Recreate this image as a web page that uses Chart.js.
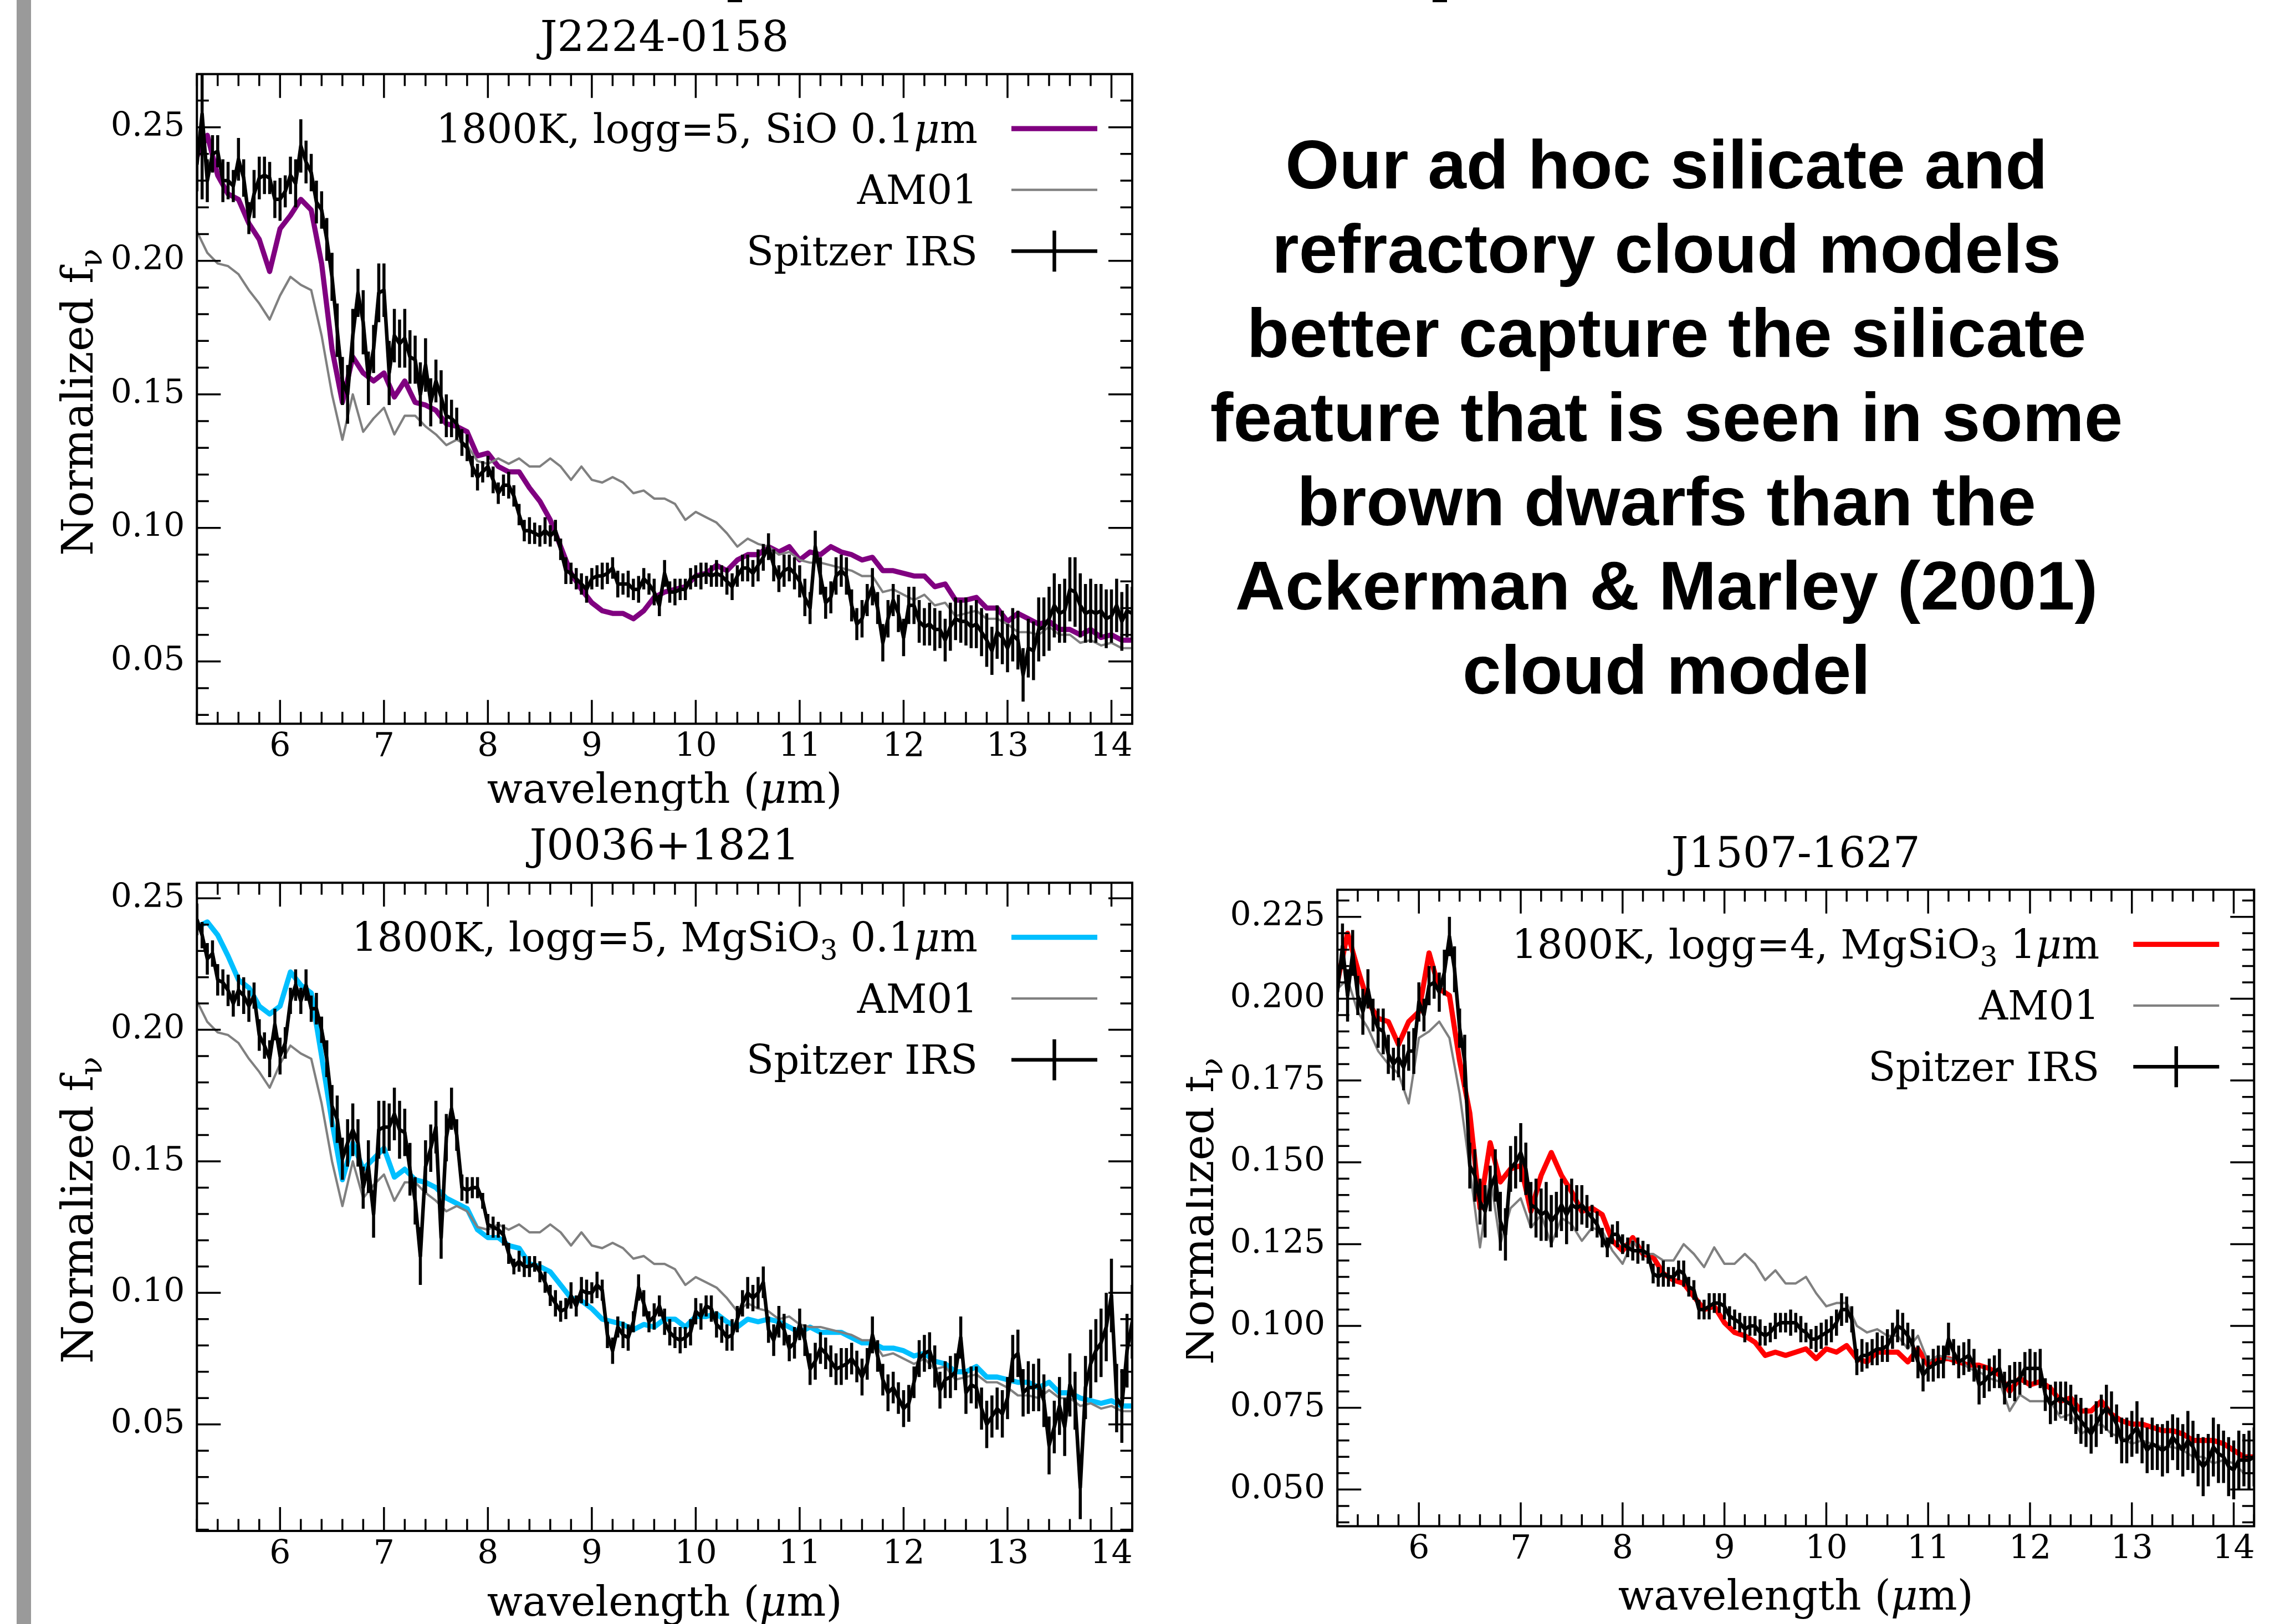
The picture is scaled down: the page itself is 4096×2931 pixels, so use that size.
<!DOCTYPE html>
<html>
<head>
<meta charset="utf-8">
<script src="https://cdn.jsdelivr.net/npm/chart.js@4.4.1/dist/chart.umd.min.js"></script>
<style>
  html, body { margin: 0; padding: 0; background: #ffffff; }
  body { width: 4096px; height: 2931px; position: relative; overflow: hidden; }
  canvas { position: absolute; }
  #bar { position: absolute; left: 30px; top: 0; width: 26px; height: 2931px; background: #9a9a9a; }
  .cut { position: absolute; top: 0; width: 26px; height: 4px; background: #000; }
  #note {
    position: absolute; left: 2007px; top: 221px; width: 2000px;
    text-align: center; color: #000;
    font-family: "Liberation Sans", Arial, sans-serif; font-weight: bold;
    font-size: 125px; line-height: 152px; white-space: pre;
  }
</style>
</head>
<body>
<div id="bar"></div>
<div class="cut" style="left:1313px"></div>
<div class="cut" style="left:2585px"></div>
<canvas id="c1" width="2000" height="1463" style="left:70px;top:0px"></canvas>
<canvas id="c2" width="2000" height="1451" style="left:70px;top:1480px"></canvas>
<canvas id="c3" width="1956" height="1451" style="left:2140px;top:1480px"></canvas>
<div id="note">Our ad hoc silicate and
refractory cloud models
better capture the silicate
feature that is seen in some
brown dwarfs than the
Ackerman &amp; Marley (2001)
cloud model</div>
<script>
// Model wavelength grid (micron)
const wl = [5.2,5.3,5.4,5.5,5.6,5.7,5.8,5.9,6.0,6.1,6.2,6.3,6.4,6.5,6.6,6.7,6.8,6.9,7.0,7.1,
  7.2,7.3,7.4,7.5,7.6,7.7,7.8,7.9,8.0,8.1,8.2,8.3,8.4,8.5,8.6,8.7,8.8,8.9,9.0,9.1,
  9.2,9.3,9.4,9.5,9.6,9.7,9.8,9.9,10.0,10.1,10.2,10.3,10.4,10.5,10.6,10.7,10.8,10.9,11.0,11.1,
  11.2,11.3,11.4,11.5,11.6,11.7,11.8,11.9,12.0,12.1,12.2,12.3,12.4,12.5,12.6,12.7,12.8,12.9,13.0,13.1,
  13.2,13.3,13.4,13.5,13.6,13.7,13.8,13.9,14.0,14.1,14.2];

// Spitzer IRS wavelength grid (micron)
const wlIrs = [
  5.20,5.25,5.30,5.35,5.40,5.45,5.50,5.55,5.60,5.65,
  5.70,5.75,5.80,5.85,5.90,5.95,6.00,6.05,6.10,6.15,
  6.20,6.25,6.30,6.35,6.40,6.45,6.50,6.55,6.60,6.65,
  6.70,6.75,6.80,6.85,6.90,6.95,7.00,7.05,7.10,7.15,
  7.20,7.25,7.30,7.35,7.40,7.45,7.50,7.55,7.60,7.65,
  7.70,7.75,7.80,7.85,7.90,7.95,8.00,8.05,8.10,8.15,
  8.20,8.25,8.30,8.35,8.40,8.45,8.50,8.55,8.60,8.65,
  8.70,8.75,8.80,8.85,8.90,8.95,9.00,9.05,9.10,9.15,
  9.20,9.25,9.30,9.35,9.40,9.45,9.50,9.55,9.60,9.65,
  9.70,9.75,9.80,9.85,9.90,9.95,10.00,10.05,10.10,10.15,
  10.20,10.25,10.30,10.35,10.40,10.45,10.50,10.55,10.60,10.65,
  10.70,10.75,10.80,10.85,10.90,10.95,11.00,11.05,11.10,11.15,
  11.20,11.25,11.30,11.35,11.40,11.45,11.50,11.55,11.60,11.65,
  11.70,11.75,11.80,11.85,11.90,11.95,12.00,12.05,12.10,12.15,
  12.20,12.25,12.30,12.35,12.40,12.45,12.50,12.55,12.60,12.65,
  12.70,12.75,12.80,12.85,12.90,12.95,13.00,13.05,13.10,13.15,
  13.20,13.25,13.30,13.35,13.40,13.45,13.50,13.55,13.60,13.65,
  13.70,13.75,13.80,13.85,13.90,13.95,14.00,14.05,14.10,14.15,
  14.20];

// Tick labels
const xTicks = [6,7,8,9,10,11,12,13,14];
const yTicksA = [0.05,0.10,0.15,0.20,0.25];
const yTicksB = [0.050,0.075,0.100,0.125,0.150,0.175,0.200,0.225];

// Ackerman & Marley (2001) model, J2224-0158 and J0036+1821
const am01 = [0.211,0.203,0.199,0.198,0.195,0.189,0.184,0.178,0.187,0.194,0.191,0.189,0.172,0.150,0.133,0.150,0.136,0.141,0.145,0.135,
  0.142,0.142,0.138,0.135,0.131,0.133,0.131,0.125,0.124,0.126,0.124,0.126,0.123,0.123,0.126,0.123,0.118,0.123,0.118,0.117,
  0.119,0.117,0.113,0.114,0.111,0.111,0.109,0.103,0.106,0.104,0.102,0.098,0.093,0.096,0.094,0.093,0.090,0.091,0.088,0.087,
  0.087,0.086,0.085,0.084,0.082,0.082,0.076,0.077,0.075,0.073,0.075,0.071,0.072,0.067,0.068,0.069,0.066,0.066,0.064,0.061,
  0.061,0.060,0.063,0.060,0.060,0.057,0.058,0.056,0.057,0.055,0.055];

// J2224-0158: SiO 0.1 micron cloud model
const sio01 = [0.239,0.247,0.232,0.225,0.223,0.214,0.208,0.196,0.212,0.217,0.223,0.219,0.199,0.167,0.147,0.164,0.158,0.155,0.158,0.149,
  0.155,0.147,0.146,0.144,0.139,0.138,0.136,0.127,0.128,0.123,0.121,0.121,0.115,0.110,0.103,0.093,0.083,0.077,0.072,0.069,
  0.068,0.068,0.066,0.069,0.074,0.076,0.077,0.078,0.082,0.083,0.086,0.084,0.088,0.090,0.090,0.093,0.091,0.093,0.088,0.091,
  0.090,0.093,0.091,0.090,0.088,0.089,0.084,0.084,0.083,0.082,0.082,0.078,0.079,0.073,0.073,0.074,0.070,0.070,0.065,0.068,
  0.066,0.064,0.065,0.062,0.062,0.060,0.062,0.059,0.060,0.058,0.058];

// J2224-0158: Spitzer IRS spectrum and uncertainty
const irs1 = [
  0.236,0.255,0.230,0.240,0.241,0.230,0.230,0.228,0.238,0.231,
  0.216,0.225,0.231,0.232,0.231,0.223,0.223,0.226,0.232,0.229,
  0.243,0.237,0.233,0.222,0.219,0.208,0.194,0.174,0.155,0.150,
  0.172,0.188,0.177,0.156,0.167,0.188,0.189,0.158,0.172,0.169,
  0.171,0.164,0.163,0.150,0.161,0.147,0.155,0.149,0.142,0.141,
  0.139,0.132,0.130,0.123,0.119,0.121,0.123,0.118,0.113,0.116,
  0.116,0.112,0.105,0.099,0.099,0.098,0.097,0.099,0.097,0.099,
  0.092,0.084,0.083,0.081,0.079,0.077,0.081,0.082,0.082,0.083,
  0.085,0.079,0.079,0.079,0.077,0.077,0.081,0.079,0.076,0.071,
  0.083,0.076,0.076,0.077,0.077,0.081,0.082,0.082,0.083,0.082,
  0.083,0.082,0.080,0.078,0.082,0.085,0.085,0.083,0.086,0.089,
  0.093,0.086,0.081,0.084,0.085,0.083,0.080,0.074,0.070,0.093,
  0.082,0.072,0.074,0.082,0.084,0.082,0.071,0.064,0.066,0.073,
  0.078,0.070,0.057,0.066,0.073,0.068,0.059,0.071,0.071,0.065,
  0.063,0.064,0.062,0.062,0.058,0.063,0.066,0.065,0.065,0.063,
  0.064,0.061,0.058,0.054,0.061,0.059,0.055,0.060,0.058,0.045,
  0.055,0.054,0.062,0.063,0.066,0.071,0.068,0.069,0.077,0.076,
  0.071,0.068,0.069,0.068,0.069,0.066,0.067,0.071,0.065,0.069,
  0.068];
const err1 = [
  0.010,0.032,0.008,0.007,0.006,0.008,0.007,0.006,0.008,0.007,
  0.006,0.009,0.008,0.007,0.006,0.007,0.008,0.006,0.007,0.009,
  0.010,0.008,0.007,0.008,0.007,0.008,0.009,0.010,0.009,0.011,
  0.010,0.009,0.012,0.010,0.009,0.011,0.010,0.012,0.010,0.009,
  0.011,0.010,0.009,0.012,0.010,0.009,0.008,0.010,0.008,0.007,
  0.006,0.005,0.005,0.004,0.005,0.004,0.004,0.005,0.004,0.004,
  0.005,0.004,0.004,0.004,0.005,0.004,0.004,0.005,0.004,0.004,
  0.004,0.005,0.004,0.004,0.004,0.005,0.004,0.004,0.005,0.004,
  0.004,0.005,0.004,0.005,0.004,0.005,0.004,0.004,0.005,0.004,
  0.005,0.004,0.005,0.004,0.004,0.004,0.004,0.005,0.004,0.004,
  0.005,0.004,0.005,0.005,0.004,0.005,0.005,0.005,0.006,0.005,
  0.005,0.006,0.005,0.006,0.005,0.006,0.006,0.007,0.006,0.006,
  0.007,0.006,0.006,0.007,0.006,0.007,0.006,0.006,0.007,0.006,
  0.007,0.006,0.007,0.007,0.006,0.007,0.007,0.007,0.007,0.008,
  0.007,0.008,0.008,0.007,0.008,0.009,0.008,0.008,0.009,0.008,
  0.009,0.009,0.010,0.009,0.010,0.010,0.009,0.010,0.011,0.010,
  0.011,0.011,0.012,0.011,0.012,0.012,0.011,0.012,0.012,0.013,
  0.012,0.011,0.012,0.011,0.010,0.011,0.010,0.010,0.011,0.010,
  0.010];

// J0036+1821: MgSiO3 0.1 micron cloud model
const mg01 = [0.239,0.241,0.236,0.228,0.219,0.216,0.209,0.206,0.209,0.222,0.217,0.214,0.190,0.165,0.143,0.157,0.147,0.151,0.155,0.144,
  0.147,0.143,0.142,0.140,0.136,0.134,0.132,0.124,0.121,0.121,0.118,0.117,0.111,0.110,0.108,0.103,0.098,0.097,0.094,0.090,
  0.089,0.088,0.086,0.088,0.087,0.090,0.090,0.087,0.091,0.091,0.092,0.089,0.087,0.090,0.089,0.090,0.089,0.087,0.085,0.087,
  0.085,0.085,0.085,0.083,0.081,0.081,0.079,0.079,0.078,0.076,0.077,0.074,0.073,0.070,0.070,0.072,0.068,0.068,0.067,0.066,
  0.066,0.064,0.066,0.062,0.062,0.060,0.059,0.058,0.059,0.057,0.057];

// J0036+1821: Spitzer IRS spectrum and uncertainty
const irs2 = [
  0.242,0.236,0.227,0.229,0.219,0.218,0.215,0.210,0.215,0.213,
  0.209,0.213,0.198,0.194,0.189,0.202,0.190,0.195,0.211,0.217,
  0.211,0.217,0.208,0.208,0.200,0.189,0.171,0.166,0.151,0.157,
  0.162,0.157,0.140,0.148,0.130,0.162,0.163,0.163,0.168,0.162,
  0.161,0.147,0.135,0.114,0.148,0.155,0.163,0.121,0.159,0.170,
  0.160,0.140,0.139,0.140,0.140,0.135,0.126,0.125,0.124,0.122,
  0.115,0.110,0.112,0.110,0.110,0.111,0.108,0.104,0.099,0.096,
  0.093,0.094,0.099,0.095,0.101,0.100,0.100,0.103,0.101,0.084,
  0.078,0.087,0.084,0.083,0.089,0.102,0.096,0.089,0.091,0.095,
  0.089,0.085,0.083,0.082,0.083,0.085,0.093,0.091,0.095,0.094,
  0.088,0.086,0.083,0.084,0.090,0.096,0.100,0.098,0.100,0.104,
  0.086,0.082,0.089,0.086,0.079,0.081,0.088,0.082,0.071,0.074,
  0.079,0.077,0.074,0.071,0.072,0.073,0.075,0.072,0.068,0.073,
  0.084,0.076,0.067,0.062,0.064,0.060,0.056,0.058,0.066,0.075,
  0.077,0.078,0.072,0.063,0.067,0.068,0.070,0.083,0.062,0.065,
  0.064,0.056,0.050,0.053,0.056,0.054,0.060,0.075,0.077,0.062,
  0.064,0.064,0.065,0.059,0.042,0.049,0.057,0.049,0.065,0.059,
  0.026,0.064,0.073,0.078,0.081,0.087,0.099,0.060,0.057,0.078,
  0.089];
const err2 = [
  0.006,0.005,0.006,0.005,0.006,0.005,0.006,0.005,0.006,0.007,
  0.006,0.005,0.006,0.005,0.007,0.006,0.007,0.006,0.005,0.006,
  0.005,0.006,0.005,0.006,0.005,0.007,0.008,0.009,0.008,0.009,
  0.010,0.009,0.008,0.010,0.009,0.011,0.010,0.009,0.010,0.011,
  0.009,0.010,0.009,0.011,0.010,0.009,0.010,0.008,0.009,0.008,
  0.006,0.005,0.005,0.004,0.004,0.003,0.004,0.004,0.003,0.004,
  0.004,0.003,0.004,0.004,0.004,0.003,0.004,0.004,0.004,0.005,
  0.004,0.004,0.005,0.004,0.005,0.005,0.004,0.005,0.004,0.005,
  0.005,0.004,0.005,0.005,0.004,0.005,0.005,0.004,0.005,0.004,
  0.005,0.005,0.004,0.005,0.004,0.005,0.005,0.005,0.004,0.005,
  0.005,0.005,0.005,0.006,0.005,0.005,0.006,0.005,0.006,0.006,
  0.005,0.006,0.006,0.006,0.005,0.006,0.006,0.006,0.006,0.007,
  0.006,0.006,0.006,0.006,0.007,0.006,0.006,0.006,0.007,0.006,
  0.007,0.006,0.006,0.007,0.006,0.006,0.007,0.007,0.006,0.007,
  0.007,0.007,0.008,0.007,0.007,0.008,0.007,0.008,0.008,0.007,
  0.008,0.008,0.009,0.008,0.008,0.009,0.008,0.009,0.009,0.009,
  0.010,0.009,0.010,0.010,0.011,0.010,0.011,0.011,0.012,0.011,
  0.012,0.012,0.013,0.012,0.013,0.013,0.014,0.013,0.014,0.014,
  0.014];

// J1507-1627: MgSiO3 1 micron cloud model
const mg1 = [0.205,0.220,0.209,0.199,0.194,0.193,0.186,0.193,0.196,0.214,0.203,0.201,0.181,0.165,0.136,0.156,0.144,0.148,0.149,0.135,
  0.146,0.153,0.146,0.141,0.135,0.136,0.134,0.126,0.123,0.127,0.122,0.121,0.116,0.114,0.113,0.109,0.105,0.106,0.101,0.098,
  0.097,0.095,0.091,0.092,0.091,0.092,0.093,0.090,0.093,0.092,0.094,0.090,0.089,0.092,0.092,0.092,0.089,0.093,0.088,0.090,
  0.090,0.089,0.088,0.088,0.087,0.085,0.080,0.084,0.082,0.083,0.081,0.077,0.078,0.074,0.074,0.077,0.073,0.071,0.070,0.070,
  0.069,0.068,0.068,0.067,0.065,0.065,0.065,0.064,0.062,0.060,0.060];

// J1507-1627: Ackerman & Marley (2001) model
const am01b = [0.203,0.206,0.196,0.191,0.184,0.180,0.177,0.168,0.188,0.190,0.193,0.188,0.171,0.148,0.124,0.146,0.125,0.136,0.139,0.130,
  0.134,0.125,0.133,0.131,0.126,0.130,0.129,0.123,0.119,0.126,0.122,0.122,0.120,0.120,0.125,0.122,0.118,0.124,0.119,0.119,
  0.122,0.119,0.114,0.117,0.113,0.113,0.115,0.110,0.106,0.107,0.107,0.100,0.098,0.099,0.097,0.097,0.093,0.097,0.089,0.091,
  0.090,0.090,0.087,0.086,0.084,0.083,0.074,0.079,0.077,0.077,0.077,0.072,0.073,0.067,0.069,0.070,0.067,0.066,0.064,0.065,
  0.064,0.063,0.063,0.062,0.060,0.060,0.058,0.059,0.058,0.055,0.055];

// J1507-1627: Spitzer IRS spectrum and uncertainty
const irs3 = [
  0.202,0.216,0.201,0.214,0.201,0.196,0.203,0.195,0.191,0.190,
  0.183,0.180,0.182,0.179,0.184,0.184,0.199,0.195,0.204,0.205,
  0.202,0.208,0.219,0.209,0.191,0.181,0.149,0.146,0.138,0.135,
  0.142,0.146,0.132,0.128,0.148,0.150,0.153,0.148,0.137,0.136,
  0.134,0.135,0.132,0.134,0.137,0.134,0.137,0.136,0.137,0.135,
  0.133,0.131,0.127,0.124,0.128,0.128,0.125,0.124,0.123,0.123,
  0.123,0.122,0.116,0.115,0.116,0.115,0.115,0.117,0.116,0.112,
  0.111,0.105,0.105,0.106,0.107,0.107,0.106,0.103,0.102,0.101,
  0.099,0.100,0.100,0.098,0.097,0.098,0.100,0.101,0.101,0.101,
  0.101,0.099,0.098,0.096,0.096,0.097,0.098,0.099,0.101,0.105,
  0.105,0.102,0.089,0.091,0.091,0.092,0.093,0.093,0.094,0.097,
  0.100,0.099,0.097,0.094,0.089,0.085,0.087,0.088,0.089,0.089,
  0.096,0.092,0.089,0.090,0.091,0.088,0.082,0.083,0.085,0.086,
  0.087,0.081,0.083,0.083,0.084,0.087,0.087,0.087,0.087,0.079,
  0.076,0.077,0.078,0.077,0.076,0.073,0.071,0.069,0.067,0.070,
  0.073,0.075,0.073,0.070,0.065,0.065,0.067,0.069,0.065,0.062,
  0.064,0.063,0.062,0.063,0.066,0.064,0.062,0.065,0.063,0.059,
  0.057,0.059,0.063,0.061,0.060,0.057,0.056,0.059,0.059,0.059,
  0.060];
const err3 = [
  0.006,0.007,0.008,0.007,0.006,0.007,0.006,0.005,0.006,0.007,
  0.006,0.005,0.006,0.007,0.006,0.007,0.006,0.005,0.006,0.005,
  0.006,0.007,0.006,0.007,0.006,0.008,0.007,0.008,0.007,0.008,
  0.007,0.008,0.009,0.008,0.007,0.008,0.009,0.008,0.007,0.009,
  0.008,0.009,0.008,0.007,0.008,0.009,0.008,0.007,0.006,0.005,
  0.004,0.004,0.003,0.003,0.003,0.004,0.003,0.003,0.003,0.004,
  0.003,0.003,0.003,0.003,0.004,0.003,0.003,0.003,0.004,0.003,
  0.003,0.003,0.003,0.004,0.003,0.003,0.004,0.003,0.003,0.003,
  0.004,0.003,0.003,0.004,0.003,0.003,0.004,0.003,0.003,0.004,
  0.003,0.004,0.003,0.003,0.004,0.004,0.004,0.004,0.004,0.005,
  0.004,0.004,0.004,0.005,0.004,0.004,0.005,0.004,0.005,0.004,
  0.005,0.005,0.004,0.005,0.005,0.005,0.004,0.005,0.005,0.005,
  0.005,0.004,0.005,0.005,0.005,0.005,0.006,0.005,0.005,0.005,
  0.006,0.005,0.005,0.006,0.005,0.005,0.006,0.005,0.006,0.005,
  0.006,0.006,0.005,0.006,0.006,0.006,0.007,0.006,0.006,0.007,
  0.006,0.007,0.007,0.006,0.007,0.007,0.007,0.008,0.007,0.007,
  0.008,0.007,0.008,0.008,0.007,0.008,0.008,0.009,0.008,0.008,
  0.009,0.008,0.009,0.009,0.008,0.009,0.009,0.009,0.008,0.009,
  0.009];

const SERIF = '"DejaVu Serif"';
const toXY = (xs, ys) => xs.map((x, i) => ({ x: x, y: ys[i] }));

// Rich text helpers: plain strings, {sub: ...} subscripts, {it: ...} italic glyphs
function richParts(ctx, segs, size) {
  const parts = segs.map(s => {
    if (typeof s === 'string') return { t: s, font: size + 'px ' + SERIF, dy: 0 };
    if (s.sub) return { t: s.sub, font: (size * 0.7) + 'px ' + SERIF, dy: size * 0.2 };
    return { t: s.it, font: 'italic ' + size + 'px ' + SERIF, dy: 0 };
  });
  let w = 0;
  parts.forEach(p => { ctx.font = p.font; p.w = ctx.measureText(p.t).width; w += p.w; });
  return { parts, w };
}
function drawRich(ctx, segs, size, x, baseline, align) {
  const r = richParts(ctx, segs, size);
  let left = align === 'right' ? x - r.w : align === 'center' ? x - r.w / 2 : x;
  ctx.textAlign = 'left';
  ctx.textBaseline = 'alphabetic';
  r.parts.forEach(p => { ctx.font = p.font; ctx.fillText(p.t, left, baseline + p.dy); left += p.w; });
}

// Inward ticks on all four sides, box, error bars, legend and titles
const framePlugin = {
  id: 'frame',
  afterDatasetsDraw(chart) {
    const o = chart.options.plugins.frame;
    const ctx = chart.ctx, a = chart.chartArea, ys = chart.scales.y;
    ctx.save();
    ctx.beginPath();
    ctx.rect(a.left, a.top, a.right - a.left, a.bottom - a.top);
    ctx.clip();
    chart.data.datasets.forEach((ds, i) => {
      if (!ds.errors) return;
      const meta = chart.getDatasetMeta(i);
      ctx.strokeStyle = ds.borderColor;
      ctx.lineWidth = o.errWidth;
      ctx.beginPath();
      meta.data.forEach((pt, j) => {
        const v = ds.data[j].y, e = ds.errors[j];
        ctx.moveTo(pt.x, ys.getPixelForValue(v + e));
        ctx.lineTo(pt.x, ys.getPixelForValue(v - e));
      });
      ctx.stroke();
    });
    ctx.restore();
  },
  afterDraw(chart) {
    const o = chart.options.plugins.frame;
    const ctx = chart.ctx, a = chart.chartArea, xs = chart.scales.x, ys = chart.scales.y;
    ctx.save();
    ctx.strokeStyle = '#000';
    ctx.fillStyle = '#000';
    ctx.lineCap = 'butt';
    ctx.lineWidth = o.tickWidth;
    ctx.beginPath();
    const xTick = (v, len) => {
      const p = xs.getPixelForValue(v);
      ctx.moveTo(p, a.bottom); ctx.lineTo(p, a.bottom - len);
      ctx.moveTo(p, a.top); ctx.lineTo(p, a.top + len);
    };
    const yTick = (v, len) => {
      const p = ys.getPixelForValue(v);
      ctx.moveTo(a.left, p); ctx.lineTo(a.left + len, p);
      ctx.moveTo(a.right, p); ctx.lineTo(a.right - len, p);
    };
    o.xMajor.forEach(v => xTick(v, o.majorLen));
    const nx = Math.round(1 / o.xMinorStep);
    for (let m = Math.ceil(xs.min * nx - 1e-6); m <= Math.floor(xs.max * nx + 1e-6); m++) {
      if (m % nx === 0) continue;
      xTick(m / nx, o.minorLen);
    }
    o.yMajor.forEach(v => yTick(v, o.majorLen));
    const ny = Math.round(1 / o.yMinorStep);
    const majorKeys = o.yMajor.map(v => Math.round(v * ny));
    for (let m = Math.ceil(ys.min * ny - 1e-6); m <= Math.floor(ys.max * ny + 1e-6); m++) {
      if (majorKeys.includes(m)) continue;
      yTick(m / ny, o.minorLen);
    }
    ctx.stroke();
    ctx.lineWidth = o.boxWidth;
    ctx.strokeRect(a.left, a.top, a.right - a.left, a.bottom - a.top);

    // legend: labels right-aligned, handles to the right
    chart.data.datasets.forEach((ds, i) => {
      const base = a.top + o.legendTop + i * o.legendStep;
      ctx.fillStyle = '#000';
      drawRich(ctx, ds.richLabel, o.legendSize, a.right - o.legendTextRight, base, 'right');
      const hy = base - o.handleRise;
      ctx.strokeStyle = ds.borderColor;
      ctx.lineWidth = ds.borderWidth;
      ctx.beginPath();
      ctx.moveTo(a.right - o.handleX0, hy);
      ctx.lineTo(a.right - o.handleX1, hy);
      if (ds.errors) {
        const cx = a.right - (o.handleX0 + o.handleX1) / 2;
        ctx.moveTo(cx, hy - o.handleErr);
        ctx.lineTo(cx, hy + o.handleErr);
      }
      ctx.stroke();
    });

    ctx.fillStyle = '#000';
    const cxa = (a.left + a.right) / 2;
    // panel title
    drawRich(ctx, [o.title], o.titleSize, cxa, a.top - o.titleOff, 'center');
    // x axis title
    drawRich(ctx, ['wavelength (', { it: 'μ' }, 'm)'], o.labelSize, cxa, a.bottom + o.xTitleOff, 'center');
    // y axis title, rotated
    ctx.save();
    ctx.translate(a.left - o.yTitleOff, (a.top + a.bottom) / 2 + o.yTitleShift);
    ctx.rotate(-Math.PI / 2);
    drawRich(ctx, ['Normalized f', { sub: 'ν' }], o.yLabelSize, 0, 0, 'center');
    ctx.restore();
    ctx.restore();
  }
};

function makePanel(p) {
  const datasets = [
    { label: p.modelText, richLabel: p.modelRich, data: toXY(wl, p.model), borderColor: p.color, borderWidth: 9.3, order: 3 },
    { label: 'AM01', richLabel: ['AM01'], data: toXY(wl, p.am), borderColor: '#808080', borderWidth: 4.2, order: 2 },
    { label: 'Spitzer IRS', richLabel: ['Spitzer IRS'], data: toXY(wlIrs, p.irs), errors: p.err, borderColor: '#000000', borderWidth: 6.5, order: 1 }
  ];
  return new Chart(document.getElementById(p.canvas), {
    type: 'line',
    data: { datasets },
    options: {
      responsive: false,
      animation: false,
      devicePixelRatio: 1,
      elements: {
        point: { radius: 0, hoverRadius: 0 },
        line: { tension: 0, borderJoinStyle: 'round', fill: false }
      },
      layout: { padding: { top: p.topPad, right: p.rightPad, left: 0, bottom: 0 } },
      plugins: {
        legend: { display: false },
        tooltip: { enabled: false },
        frame: {
          title: p.title, titleSize: 77, titleOff: p.titleOff,
          labelSize: 75, yLabelSize: 79, xTitleOff: p.xTitleOff, yTitleOff: p.yTitleOff, yTitleShift: 6,
          xMajor: xTicks, xMinorStep: 0.2, yMajor: p.yTicks, yMinorStep: p.yMinorStep,
          majorLen: 43, minorLen: 21.5, tickWidth: 3.5, boxWidth: 4, errWidth: 5.5,
          legendSize: 72, legendTop: 124, legendStep: 110.5, legendTextRight: 279,
          handleX0: 218, handleX1: 63, handleRise: 25.5, handleErr: 37
        }
      },
      scales: {
        x: {
          type: 'linear', position: 'bottom', min: 5.2, max: 14.2,
          grid: { display: false, drawTicks: false },
          border: { display: false },
          afterBuildTicks: s => { s.ticks = xTicks.map(v => ({ value: v })); },
          afterFit: s => { s.height = p.bottomH; },
          ticks: {
            color: '#000', padding: 7, maxRotation: 0, autoSkip: false,
            font: { family: 'DejaVu Serif', size: 60 },
            callback: v => String(v)
          }
        },
        y: {
          type: 'linear', position: 'left', min: p.yMin, max: p.yMax,
          grid: { display: false, drawTicks: false },
          border: { display: false },
          afterBuildTicks: s => { s.ticks = p.yTicks.map(v => ({ value: v })); },
          afterFit: s => { s.width = p.leftW; },
          ticks: {
            color: '#000', padding: 22, autoSkip: false,
            font: { family: 'DejaVu Serif', size: 60 },
            callback: v => v.toFixed(p.yDec)
          }
        }
      }
    },
    plugins: [framePlugin]
  });
}

function build() {
  makePanel({
    canvas: 'c1', title: 'J2224-0158', color: '#800080',
    modelText: '1800K, logg=5, SiO 0.1μm', modelRich: ['1800K, logg=5, SiO 0.1', { it: 'μ' }, 'm'],
    model: sio01, am: am01, irs: irs1, err: err1,
    yMin: 0.0267, yMax: 0.2699, yTicks: yTicksA, yMinorStep: 0.01, yDec: 2,
    leftW: 285.3, rightPad: 27, topPad: 133.7, bottomH: 156.8,
    titleOff: 42, xTitleOff: 143, yTitleOff: 188
  });
  makePanel({
    canvas: 'c2', title: 'J0036+1821', color: '#00BFFF',
    modelText: '1800K, logg=5, MgSiO₃ 0.1μm', modelRich: ['1800K, logg=5, MgSiO', { sub: '3' }, ' 0.1', { it: 'μ' }, 'm'],
    model: mg01, am: am01, irs: irs2, err: err2,
    yMin: 0.0095, yMax: 0.2559, yTicks: yTicksA, yMinorStep: 0.01, yDec: 2,
    leftW: 285.3, rightPad: 27, topPad: 113.2, bottomH: 168,
    titleOff: 42, xTitleOff: 153, yTitleOff: 188
  });
  makePanel({
    canvas: 'c3', title: 'J1507-1627', color: '#FF0000',
    modelText: '1800K, logg=4, MgSiO₃ 1μm', modelRich: ['1800K, logg=4, MgSiO', { sub: '3' }, ' 1', { it: 'μ' }, 'm'],
    model: mg1, am: am01b, irs: irs3, err: err3,
    yMin: 0.0388, yMax: 0.2333, yTicks: yTicksB, yMinorStep: 0.005, yDec: 3,
    leftW: 273.2, rightPad: 28.7, topPad: 125.8, bottomH: 176.5,
    titleOff: 41, xTitleOff: 150, yTitleOff: 224
  });
}

Promise.all([
  document.fonts.load('60px "DejaVu Serif"'),
  document.fonts.load('italic 72px "DejaVu Serif"'),
  document.fonts.load('bold 125px "Liberation Sans"')
]).catch(() => {}).then(build);
</script>
</body>
</html>
